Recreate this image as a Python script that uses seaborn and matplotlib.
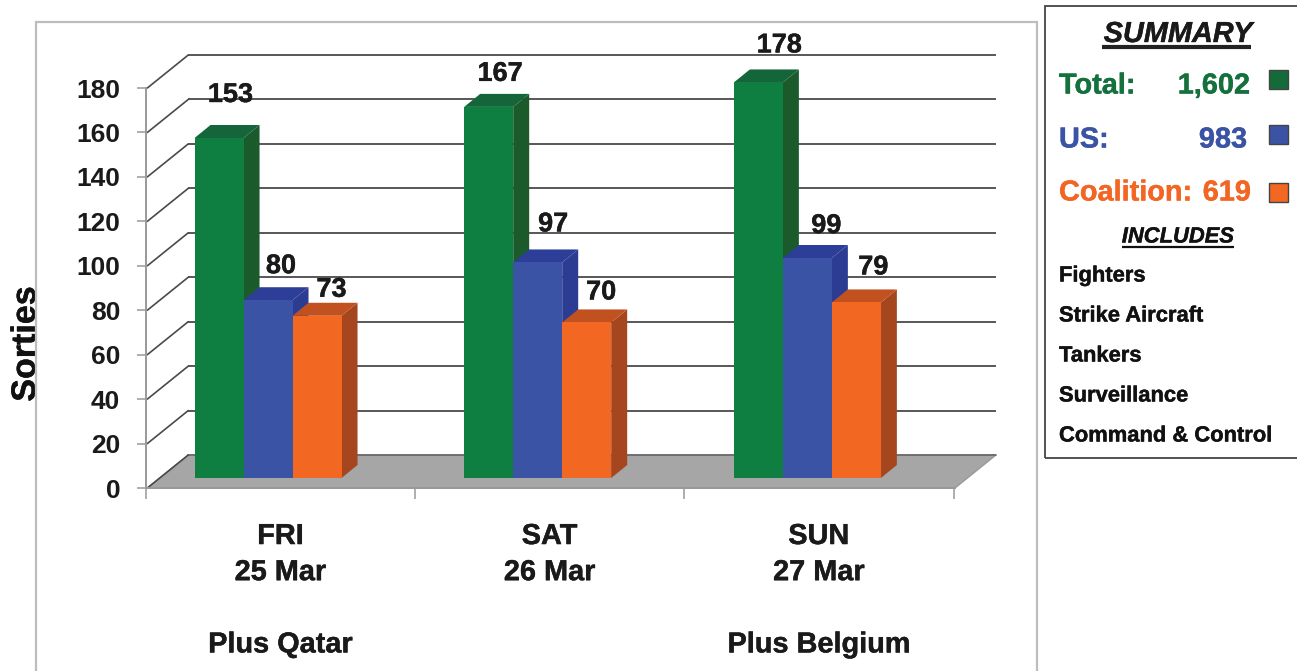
import matplotlib
matplotlib.use("Agg")
import matplotlib.pyplot as plt
import matplotlib.patheffects as pe
from matplotlib.patches import Polygon, Rectangle
from matplotlib.text import Text
import pandas as pd
import seaborn as sns

# Daily sortie counts
days = ["FRI\n25 Mar\n\nPlus Qatar", "SAT\n26 Mar\n\n", "SUN\n27 Mar\n\nPlus Belgium"]
series_names = ["Total", "US", "Coalition"]
total_sorties = [153, 167, 178]
us_sorties = [80, 97, 99]
coalition_sorties = [73, 70, 79]
y_ticks = list(range(0, 181, 20))

summary_rows = [("Total:", "1,602"), ("US:", "983"), ("Coalition:", "619")]
includes = ["Fighters", "Strike Aircraft", "Tankers", "Surveillance", "Command & Control"]

# Face colours of the extruded bars: front, side, top
front = {"Total": "#0E7F40", "US": "#3A53A4", "Coalition": "#F26822"}
side = {"Total": "#1B5A2B", "US": "#2B3C92", "Coalition": "#A5461F"}
top = {"Total": "#14663A", "US": "#2C3E98", "Coalition": "#C1521F"}
text_colour = {"Total": "#14703C", "US": "#3A53A4", "Coalition": "#F26522"}
swatch_colour = {"Total": "#126B38", "US": "#3A53A4", "Coalition": "#F26822"}

W, H = 1297, 671
sns.set_theme(style="white")
plt.rcParams["font.family"] = ["Liberation Sans", "DejaVu Sans"]
plt.rcParams["font.weight"] = "bold"

fig = plt.figure(figsize=(W / 100, H / 100), dpi=100, facecolor="white")


def px_axes(left, top_px, right, bottom):
    return fig.add_axes([left / W, 1 - bottom / H, (right - left) / W, (bottom - top_px) / H])


def fx(x):
    return x / W


def fy(y):
    return 1 - y / H


# Outer panel and summary box, both running off the canvas edge
fig.add_artist(Rectangle((fx(36), fy(700)), fx(1001), fy(22) - fy(700), transform=fig.transFigure,
                         fill=False, ec="#BDBDBD", lw=1.6))
fig.add_artist(Rectangle((fx(1045), fy(458)), fx(300), fy(6) - fy(458), transform=fig.transFigure,
                         fill=False, ec="#444444", lw=1.3))

# Axis frame: scale, tick labels, back wall and floor
ax = px_axes(146, 88, 955, 488)
ax.set_xlim(-0.5, 2.5)
ax.set_ylim(0, 180)
ax.patch.set_alpha(0)
sns.despine(ax=ax, top=True, right=True)
for name in ("left", "bottom"):
    ax.spines[name].set_color("#999999")
    ax.spines[name].set_linewidth(1.4)

ax.set_yticks(y_ticks)
ax.set_xticks([-0.505, 0.495, 1.495, 2.495])
ax.set_xticklabels([])
ax.tick_params(axis="y", length=6.5, width=1.1, color="#999999", pad=12, labelsize=19, labelcolor="#1A1A1A", left=True)
ax.tick_params(axis="x", which="major", length=8, width=1.1, color="#999999", bottom=True)
ax.set_xticks([-0.006, 0.994, 1.994], days, minor=True)
ax.tick_params(axis="x", which="minor", length=0, pad=24.5, labelsize=20.8, labelcolor="#1A1A1A")
for label in ax.get_xticklabels(minor=True):
    label.set_linespacing(1.37)
    label.set_verticalalignment("top")
ax.set_ylabel("Sorties", fontsize=24.5, fontweight="bold", color="#111111")
ax.yaxis.set_label_coords((42 - 146) / 809, (488 - 344) / 400)

# Wall depth expressed in data units of this axis
wall_dx = 41 / (809 / 3)
wall_dy = 33 / (400 / 180)
ax.add_patch(Polygon([(-0.5, 0), (-0.5 + wall_dx, wall_dy), (2.5 + wall_dx, wall_dy), (2.5, 0)],
                     closed=True, fc="#A6A6A6", ec="#999999", lw=1, clip_on=False, zorder=1))
ax.plot([-0.5 + wall_dx, 2.5 + wall_dx], [wall_dy, wall_dy], color="#666666", lw=1.2, clip_on=False, zorder=1.5)
for value in y_ticks:
    colour = "#4A4A4A"
    ax.plot([-0.5, -0.5 + wall_dx], [value, value + wall_dy], color=colour, lw=1.2, clip_on=False, zorder=2)
    if value:
        ax.plot([-0.5 + wall_dx, 2.5 + wall_dx], [value + wall_dy] * 2, color=colour, lw=1.3,
                clip_on=False, zorder=2, solid_capstyle="butt")

# Bars sit on the floor, slightly in front of the axis frame
bar_ax = px_axes(146, 78, 955, 478)
bar_ax.patch.set_alpha(0)
shift = 12.8 / (809 / 3)

df = pd.DataFrame({
    "day": days * 3,
    "series": [s for s in series_names for _ in days],
    "sorties": total_sorties + us_sorties + coalition_sorties,
})
sns.barplot(data=df, x="day", y="sorties", hue="series", order=days, hue_order=series_names,
            palette=front, width=3 * 49 / (809 / 3), saturation=1, gap=0, legend=False,
            dodge=True, ax=bar_ax, zorder=3, linewidth=0, edgecolor="none")
bar_ax.set_xlim(-0.5 + shift, 2.5 + shift)
bar_ax.set_ylim(0, 180)
bar_ax.axis("off")

# Extrude each bar with a side and a top face; later bars overlap earlier ones
depth_dx = 16 / (809 / 3)
depth_dy = 13 / (400 / 180)
label_nudge = {
    "Total": [(11.5, 43), (11.5, 33), (21, 37)],
    "US": [(13, 34), (15.5, 38), (19, 32)],
    "Coalition": [(14.5, 26), (14.5, 30), (17, 35)],
}
for s_idx, (name, container) in enumerate(zip(series_names, bar_ax.containers)):
    for d_idx, bar in enumerate(container):
        x0, x1, h = bar.get_x(), bar.get_x() + bar.get_width(), bar.get_height()
        z = 3 + s_idx
        bar_ax.add_patch(Polygon([(x1, 0), (x1 + depth_dx, depth_dy), (x1 + depth_dx, h + depth_dy), (x1, h)],
                                 closed=True, fc=side[name], ec="none", clip_on=False, zorder=z))
        bar_ax.add_patch(Polygon([(x0, h), (x1, h), (x1 + depth_dx, h + depth_dy), (x0 + depth_dx, h + depth_dy)],
                                 closed=True, fc=top[name], ec="none", clip_on=False, zorder=z))
        bar.set_zorder(z + 0.5)
        bar.set_clip_on(False)
        nudge_x, nudge_y = label_nudge[name][d_idx]
        bar_ax.annotate(f"{int(h)}", ((x0 + x1) / 2, h), xytext=(nudge_x * 0.72, nudge_y * 0.72),
                        textcoords="offset points", ha="center", va="center", fontsize=19.5,
                        fontweight="bold", color="#1A1A1A", zorder=10, annotation_clip=False)

# Summary panel
fig.text(fx(1178), fy(34), "SUMMARY", ha="center", va="center", fontsize=20.8, style="italic",
         fontweight="bold", color="#1A1A1A")
fig.add_artist(plt.Line2D([fx(1102), fx(1251)], [fy(47), fy(47)], color="#222222", lw=3, solid_capstyle="butt"))

row_y = [85.5, 139.5, 192.5]
value_right = [1250, 1247, 1251]
swatch_y = [70, 125, 183]
for name, (caption, amount), y, right, sy in zip(series_names, summary_rows, row_y, value_right, swatch_y):
    fig.text(fx(1059), fy(y), caption, ha="left", va="center", fontsize=20.8, fontweight="bold", color=text_colour[name])
    fig.text(fx(right), fy(y), amount, ha="right", va="center", fontsize=20.8, fontweight="bold", color=text_colour[name])
    fig.add_artist(Rectangle((fx(1269), fy(sy + 19)), 19 / W, 19 / H, transform=fig.transFigure,
                             fc=swatch_colour[name], ec="#444444", lw=1))

fig.text(fx(1178), fy(237), "INCLUDES", ha="center", va="center", fontsize=15.8, style="italic",
         fontweight="bold", color="#111111")
fig.add_artist(plt.Line2D([fx(1122), fx(1234)], [fy(247), fy(247)], color="#111111", lw=1.6, solid_capstyle="butt"))
for item, y in zip(includes, [276, 316, 356, 396, 436]):
    fig.text(fx(1059), fy(y), item, ha="left", va="center", fontsize=15.8, fontweight="bold", color="#111111")

# Slightly heavier lettering throughout
for artist in fig.findobj(Text):
    if artist.get_text():
        artist.set_path_effects([pe.withStroke(linewidth=0.3, foreground=artist.get_color())])

fig.savefig("out.png", dpi=100, facecolor="white")
